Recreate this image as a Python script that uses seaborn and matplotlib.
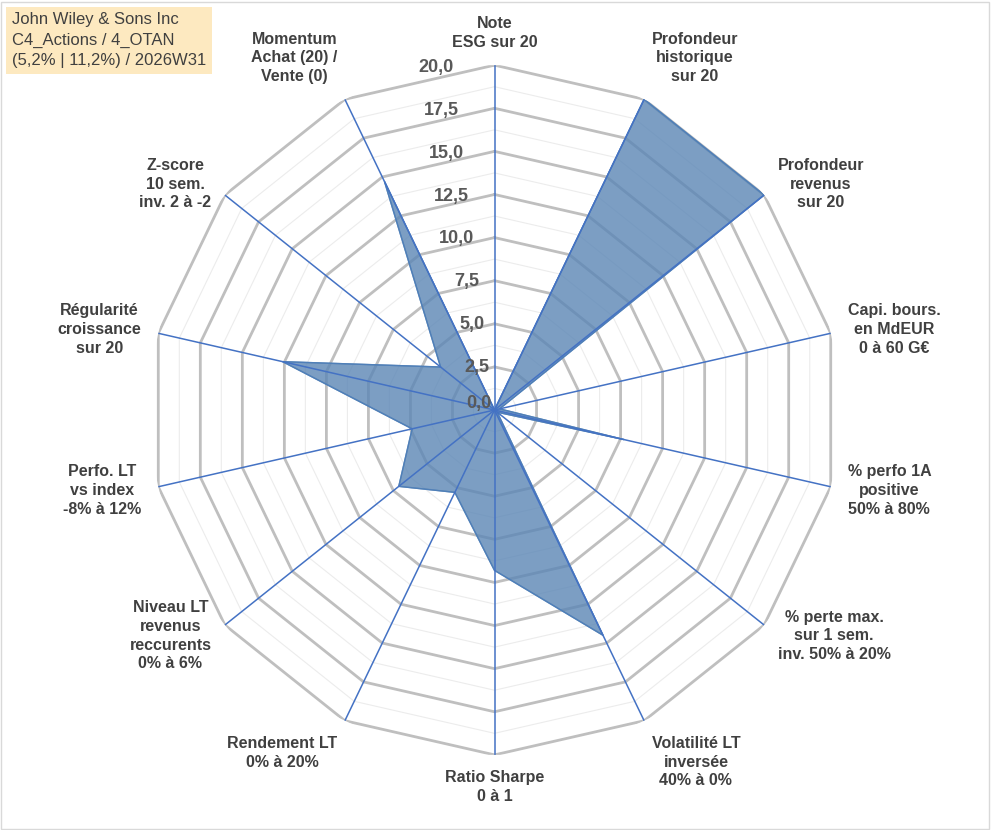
import numpy as np
import matplotlib.pyplot as plt
import seaborn as sns

labels = ['Note\nESG sur 20', 'Profondeur\nhistorique\nsur 20', 'Profondeur\nrevenus\nsur 20',
          'Capi. bours.\nen MdEUR\n0 à 60 G€', '% perfo 1A\npositive\n50% à 80%',
          '% perte max.\nsur 1 sem.\ninv. 50% à 20%', 'Volatilité LT\ninversée\n40% à 0%',
          'Ratio Sharpe\n0 à 1', 'Rendement LT\n0% à 20%', 'Niveau LT\nrevenus\nreccurents\n0% à 6%',
          'Perfo. LT\nvs index\n-8% à 12%', 'Régularité\ncroissance\nsur 20',
          'Z-score\n10 sem.\ninv. 2 à -2', 'Momentum\nAchat (20) /\nVente (0)']
values = [0.0, 20.0, 20.0, 0.3, 7.7, 0.2, 14.5, 9.3, 5.3, 7.1, 4.9, 12.6, 4.0, 14.7]
ticks = np.arange(0, 20.01, 2.5)

sns.set_theme(style='white')
plt.rcParams['font.family'] = ['Liberation Sans', 'DejaVu Sans']

n = len(labels)
ang = np.linspace(0, 2 * np.pi, n, endpoint=False)
fig = plt.figure(figsize=(9.91, 8.30), dpi=100)
ax = fig.add_axes([0.151, 0.089, 0.696, 0.834], projection='polar')
ax.set_theta_zero_location('N')
ax.set_theta_direction(-1)
ax.set_ylim(0, 20)
ax.axis('off')

closed = np.append(ang, ang[0])
for r in np.arange(1.25, 20.01, 1.25):
    major = abs(r / 2.5 - round(r / 2.5)) < 1e-6
    ax.plot(closed, [r] * (n + 1), color='#bfbfbf' if major else '#ececec',
            lw=2.0 if major else 0.8, zorder=1)
for a in ang:
    ax.plot([a, a], [0, 20], color='#4472c4', lw=1.1, zorder=3)

v = np.append(values, values[0])
ax.fill(closed, v, color='#5b86b5', alpha=0.8, zorder=2)
ax.plot(closed, v, color='#4f7fb8', lw=1, zorder=2)

for t in ticks:
    ax.text(-0.12 if t > 0 else -0.5, t if t > 0 else 0.4, f'{t:.1f}'.replace('.', ','),
            ha='right', va='center', fontsize=13, fontweight='bold', color='#595959', zorder=4)

for a, lab in zip(ang, labels):
    s, c = np.sin(a), np.cos(a)
    ha = 'center' if abs(s) < 0.3 else ('left' if s > 0 else 'right')
    va = 'bottom' if c > 0.8 else ('top' if c < -0.8 else 'center')
    r = 21.0 if abs(s) > 0.3 else 20.9
    ax.text(a, r, lab, ha=ha, va=va, fontsize=11.5, fontweight='bold',
            color='#404040', linespacing=1.3, multialignment='center')

fig.text(0.012, 0.985, 'John Wiley & Sons Inc\nC4_Actions / 4_OTAN\n(5,2% | 11,2%) / 2026W31',
         ha='left', va='top', fontsize=12, color='#404040', linespacing=1.45,
         bbox=dict(boxstyle='square,pad=0.35', fc='#fde9c0', ec='none'))
fig.patches.append(plt.Rectangle((0.001, 0.001), 0.997, 0.997, transform=fig.transFigure,
                                 fill=False, ec='#d9d9d9', lw=1))
fig.savefig('out.png', dpi=100)
